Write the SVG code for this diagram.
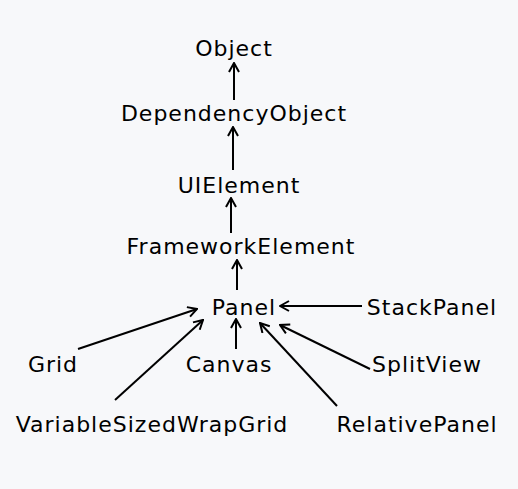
<svg xmlns="http://www.w3.org/2000/svg" width="518" height="489" viewBox="0 0 518 489">
<style>
text{font-family:"DejaVu Sans",Verdana,sans-serif;font-size:22px;letter-spacing:1px;fill:#000;text-anchor:middle}
.c line{stroke:#000;stroke-width:2;fill:none;marker-end:url(#ah)}
</style>
<defs>
<marker id="ah" viewBox="0 0 12 12" refX="11" refY="6" markerWidth="12" markerHeight="12" markerUnits="userSpaceOnUse" orient="auto">
<path d="M2,1 L11,6 L2,11" fill="none" stroke="#000" stroke-width="2"/>
</marker>
</defs>
<rect width="518" height="489" fill="#f7f8fa"/>
<g class="c" id="connectors">
<line x1="234" y1="100" x2="234" y2="63"/>
<line x1="233" y1="170" x2="233" y2="127"/>
<line x1="231" y1="233" x2="231" y2="198"/>
<line x1="237" y1="290" x2="237" y2="260"/>
<line x1="362" y1="306" x2="280" y2="306"/>
<line x1="78" y1="349" x2="197" y2="309"/>
<line x1="115" y1="400" x2="203" y2="320"/>
<line x1="236" y1="349" x2="236" y2="319"/>
<line x1="337" y1="406" x2="260" y2="323"/>
<line x1="370" y1="369" x2="280" y2="325"/>
</g>
<g id="Object"><text x="234" y="56">Object</text></g>
<g id="DependencyObject"><text x="234" y="121">DependencyObject</text></g>
<g id="UIElement"><text x="239" y="193">UIElement</text></g>
<g id="FrameworkElement"><text x="241" y="254">FrameworkElement</text></g>
<g id="Panel"><text x="244" y="315">Panel</text></g>
<g id="StackPanel"><text x="432" y="315">StackPanel</text></g>
<g id="Grid"><text x="53" y="372">Grid</text></g>
<g id="Canvas"><text x="229" y="372">Canvas</text></g>
<g id="SplitView"><text x="427" y="372">SplitView</text></g>
<g id="VariableSizedWrapGrid"><text x="152" y="432">VariableSizedWrapGrid</text></g>
<g id="RelativePanel"><text x="417" y="432">RelativePanel</text></g>
</svg>
